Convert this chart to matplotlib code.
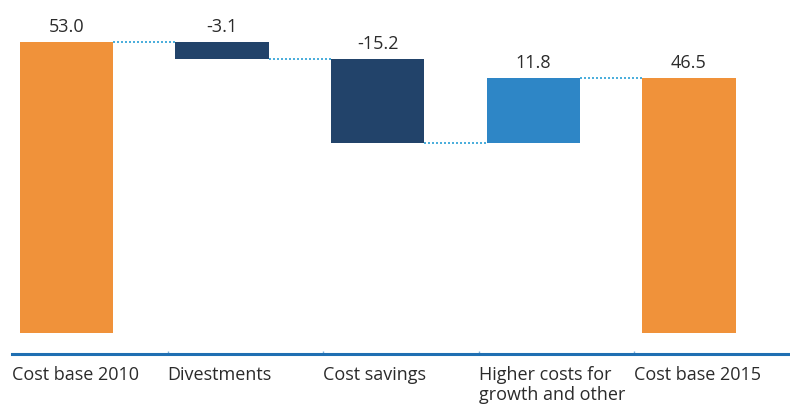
import numpy as np
import matplotlib.pyplot as plt

categories = ['Cost base 2010', 'Divestments', 'Cost savings',
              'Higher costs for\ngrowth and other', 'Cost base 2015']
values = [53.0, -3.1, -15.2, 11.8, 46.5]
is_total = [True, False, False, False, True]

orange = '#F0923A'
navy = '#22436A'
blue = '#2E86C6'
link = '#2A9FD6'
text_col = '#2B2B2B'

plt.rcParams['font.family'] = ['Open Sans', 'DejaVu Sans']

# running totals -> bottoms and tops of each bar
bottoms, tops, levels = [], [], []
level = 0.0
for v, tot in zip(values, is_total):
    if tot:
        bottoms.append(0.0)
        tops.append(v)
        level = v
    else:
        new = level + v
        bottoms.append(min(level, new))
        tops.append(max(level, new))
        level = new
    levels.append(level)

colors = []
for v, tot in zip(values, is_total):
    if tot:
        colors.append(orange)
    elif v < 0:
        colors.append(navy)
    else:
        colors.append(blue)

fig = plt.figure(figsize=(7.9, 4.05), dpi=100)
ax = fig.add_axes([12 / 790, 51 / 405, 778 / 790, 350 / 405])

x = np.arange(len(values))
bar_left = x + 0.05
bar_w = 0.6
heights = np.array(tops) - np.array(bottoms)
ax.bar(bar_left, heights, bar_w, bottom=bottoms, color=colors, align='edge', zorder=2)

# dotted connectors between bars
for i in range(len(values) - 1):
    ax.plot([bar_left[i] + bar_w, bar_left[i + 1]], [levels[i], levels[i]],
            ls=(0, (1.2, 1.2)), color=link, lw=1.2, zorder=1)

# value labels
for i, v in enumerate(values):
    ax.text(bar_left[i] + bar_w / 2, tops[i] + 1.1, f'{v:.1f}', ha='center', va='bottom',
            fontsize=13, color=text_col)

ax.set_xlim(0, 5)
ax.set_ylim(-3.8, 60)
for s in ['top', 'right', 'left']:
    ax.spines[s].set_visible(False)
ax.spines['bottom'].set_color('#1F6FB2')
ax.spines['bottom'].set_linewidth(2.2)
ax.set_yticks([])
ax.set_xticks(np.arange(1, 5))
ax.set_xticklabels([])
ax.tick_params(axis='x', length=2, width=1, color='#7FB0DA', direction='in')

for i, c in enumerate(categories):
    ax.text(i, -0.035, c, transform=ax.get_xaxis_transform(), ha='left', va='top',
            fontsize=13, color=text_col, linespacing=1.15)

fig.savefig('out.png', dpi=100)
